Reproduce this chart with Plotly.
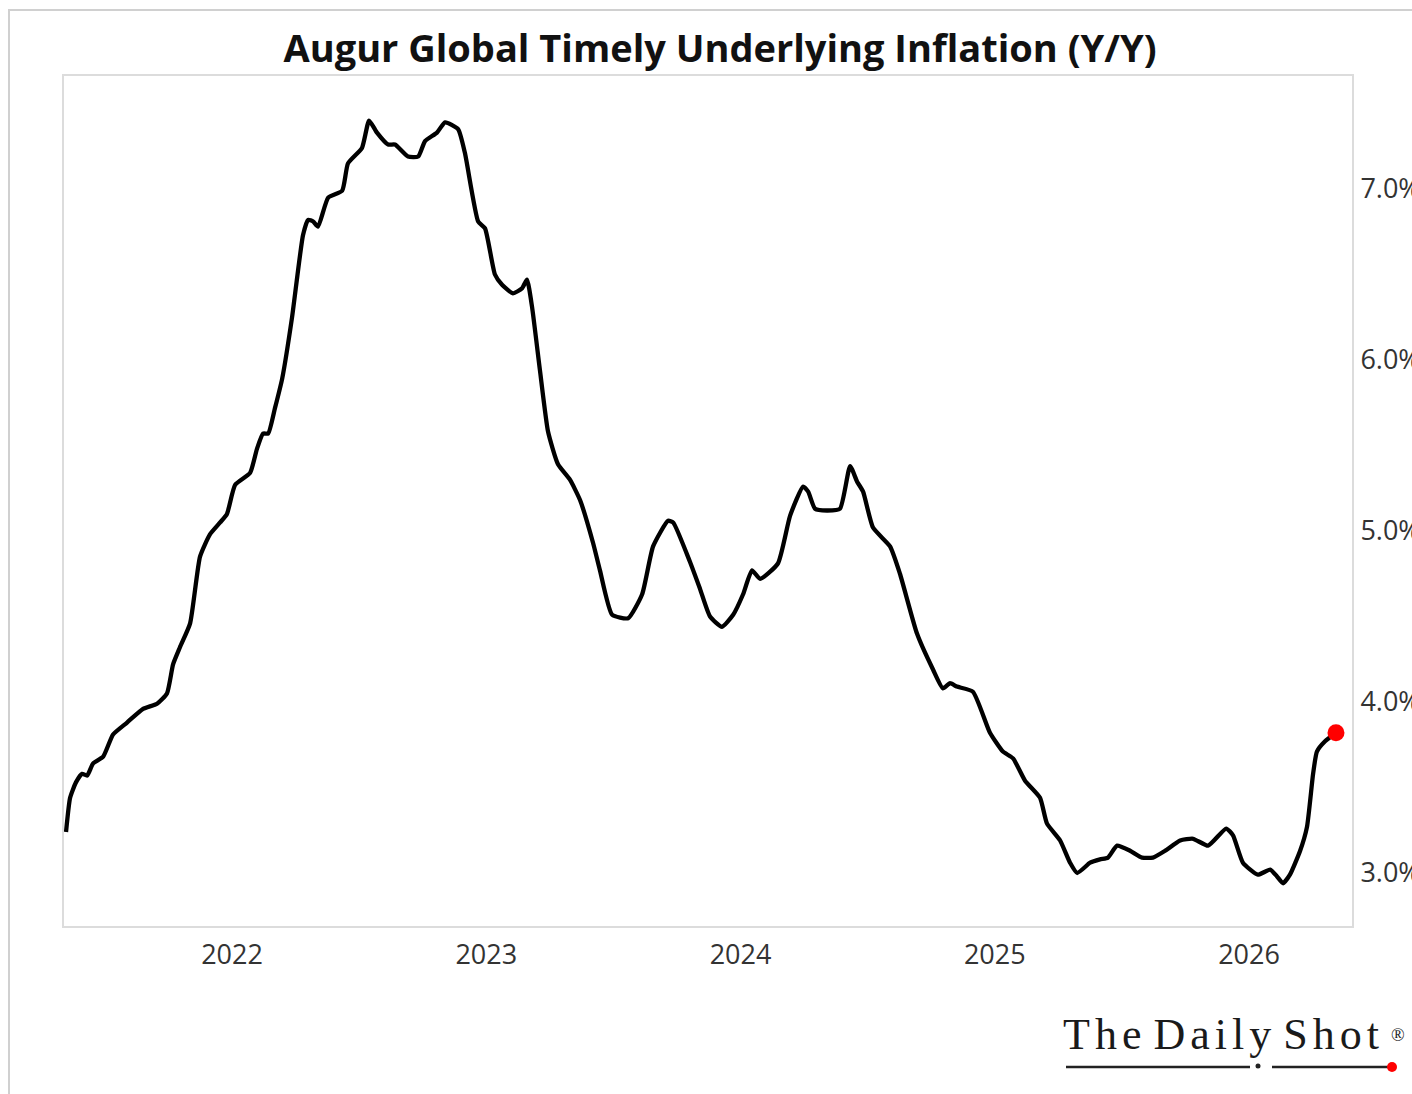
import plotly.graph_objects as go

# decimal-year positions
years = [
    2021.347, 2021.363, 2021.386, 2021.410, 2021.430, 2021.453, 2021.493, 2021.532,
    2021.587, 2021.650, 2021.705, 2021.744, 2021.768, 2021.795, 2021.835, 2021.874,
    2021.913, 2021.953, 2021.980, 2022.012, 2022.071, 2022.098, 2022.122, 2022.142,
    2022.169, 2022.197, 2022.236, 2022.279, 2022.299, 2022.319, 2022.338, 2022.378,
    2022.433, 2022.456, 2022.511, 2022.539, 2022.570, 2022.614, 2022.641, 2022.692,
    2022.732, 2022.759, 2022.806, 2022.838, 2022.889, 2022.916, 2022.968, 2022.995,
    2023.034, 2023.062, 2023.105, 2023.141, 2023.160, 2023.180, 2023.211, 2023.243,
    2023.282, 2023.329, 2023.369, 2023.420, 2023.447, 2023.495, 2023.558, 2023.613,
    2023.656, 2023.715, 2023.735, 2023.801, 2023.841, 2023.880, 2023.927, 2023.971,
    2024.010, 2024.045, 2024.077, 2024.147, 2024.195, 2024.246, 2024.266, 2024.293,
    2024.340, 2024.391, 2024.431, 2024.458, 2024.482, 2024.521, 2024.588, 2024.627,
    2024.694, 2024.757, 2024.796, 2024.824, 2024.851, 2024.914, 2024.981, 2025.032,
    2025.072, 2025.119, 2025.178, 2025.205, 2025.257, 2025.296, 2025.324, 2025.375,
    2025.414, 2025.445, 2025.481, 2025.532, 2025.579, 2025.622, 2025.670, 2025.729,
    2025.780, 2025.839, 2025.910, 2025.937, 2025.976, 2026.035, 2026.083, 2026.110,
    2026.134, 2026.161, 2026.201, 2026.228, 2026.252, 2026.267, 2026.299, 2026.342,
]

inflation = [
    3.24, 3.44, 3.53, 3.58, 3.57, 3.64, 3.68, 3.81,
    3.88, 3.96, 3.99, 4.05, 4.22, 4.32, 4.46, 4.85,
    4.98, 5.05, 5.10, 5.27, 5.34, 5.48, 5.57, 5.57,
    5.72, 5.89, 6.25, 6.73, 6.82, 6.81, 6.78, 6.95,
    6.99, 7.15, 7.24, 7.40, 7.33, 7.26, 7.26, 7.19,
    7.19, 7.28, 7.33, 7.39, 7.35, 7.21, 6.81, 6.77,
    6.50, 6.44, 6.39, 6.42, 6.47, 6.31, 5.94, 5.58,
    5.39, 5.30, 5.18, 4.93, 4.77, 4.51, 4.49, 4.63,
    4.91, 5.06, 5.05, 4.82, 4.66, 4.50, 4.44, 4.51,
    4.63, 4.77, 4.72, 4.81, 5.09, 5.26, 5.23, 5.13,
    5.12, 5.13, 5.38, 5.29, 5.23, 5.02, 4.91, 4.75,
    4.40, 4.19, 4.08, 4.11, 4.09, 4.06, 3.82, 3.71,
    3.67, 3.54, 3.44, 3.29, 3.19, 3.06, 3.00, 3.06,
    3.08, 3.09, 3.16, 3.13, 3.09, 3.09, 3.13, 3.19,
    3.20, 3.16, 3.26, 3.22, 3.06, 2.99, 3.02, 2.98,
    2.94, 2.99, 3.13, 3.27, 3.58, 3.71, 3.77, 3.82,
]

x_ticks = [2022, 2023, 2024, 2025, 2026]
y_ticks = [3.0, 4.0, 5.0, 6.0, 7.0]
y_tick_labels = ["3.0%", "4.0%", "5.0%", "6.0%", "7.0%"]

TITLE = "Augur Global Timely Underlying Inflation (Y/Y)"
LOGO = "The Daily Shot"

W, H = 1412, 1094
L, T, R, B = 64, 76, 1412 - 1352, 1094 - 926
PW, PH = W - L - R, H - T - B


def px(xs):
    return (xs - L) / PW


def py(ys):
    return (H - B - ys) / PH


fig = go.Figure()
fig.add_trace(go.Scatter(
    x=years, y=inflation, mode="lines",
    line=dict(color="black", width=4.3, shape="spline", smoothing=0.5),
    hoverinfo="skip", showlegend=False,
))
fig.add_trace(go.Scatter(
    x=[years[-1]], y=[inflation[-1]], mode="markers",
    marker=dict(color="#ff0000", size=17),
    hoverinfo="skip", showlegend=False,
))

tick_font = dict(family="Open Sans", size=27, color="#333333")

fig.update_layout(
    width=W, height=H,
    margin=dict(l=L, r=R, t=T, b=B, autoexpand=False),
    paper_bgcolor="white", plot_bgcolor="white",
    title=dict(
        text=TITLE, x=720 / W, xanchor="center", xref="container",
        y=1 - 48.5 / H, yanchor="middle",
        font=dict(family="Open Sans", size=38, color="#111111", weight="bold"),
    ),
    xaxis=dict(
        range=[2021.339, 2026.405], tickvals=x_ticks,
        ticktext=[str(v) for v in x_ticks], automargin=False,
        showgrid=False, zeroline=False, ticks="",
        showline=True, mirror=True, linecolor="#dcdcdc", linewidth=2,
        tickfont=tick_font, ticklabelstandoff=4,
    ),
    yaxis=dict(
        range=[2.690, 7.661], side="right", tickvals=y_ticks,
        ticktext=y_tick_labels, ticklabeloverflow="allow", automargin=False,
        showgrid=False, zeroline=False, ticks="",
        showline=True, mirror=True, linecolor="#dcdcdc", linewidth=2,
        tickfont=tick_font, ticklabelstandoff=1,
    ),
    shapes=[
        # outer frame
        dict(type="rect", xref="paper", yref="paper",
             x0=px(9), x1=px(1440), y0=py(1120), y1=py(10),
             line=dict(color="#d0d0d0", width=2), layer="below"),
        # logo underline
        dict(type="line", xref="paper", yref="paper",
             x0=px(1066), x1=px(1250), y0=py(1067), y1=py(1067),
             line=dict(color="#222222", width=2.5)),
        dict(type="line", xref="paper", yref="paper",
             x0=px(1272), x1=px(1390), y0=py(1067), y1=py(1067),
             line=dict(color="#222222", width=2.5)),
        dict(type="circle", xref="paper", yref="paper",
             xsizemode="pixel", ysizemode="pixel",
             xanchor=px(1258), yanchor=py(1066),
             x0=-2.5, x1=2.5, y0=-2.5, y1=2.5,
             fillcolor="#222222", line=dict(width=0)),
        dict(type="circle", xref="paper", yref="paper",
             xsizemode="pixel", ysizemode="pixel",
             xanchor=px(1392), yanchor=py(1067),
             x0=-5, x1=5, y0=-5, y1=5,
             fillcolor="#ff0000", line=dict(width=0)),
    ],
    annotations=[
        dict(text='<span style="letter-spacing:5px;word-spacing:-9px">' + LOGO + '</span>',
             xref="paper", yref="paper",
             x=px(1061), y=py(1034), xanchor="left", yanchor="middle",
             showarrow=False,
             font=dict(family="Liberation Serif", size=44, color="#1a1a1a")),
        dict(text="®", xref="paper", yref="paper",
             x=px(1398), y=py(1035), xanchor="center", yanchor="middle",
             showarrow=False,
             font=dict(family="Liberation Serif", size=18, color="#1a1a1a")),
    ],
)

fig.write_html(
    "out.html",
    config={"displayModeBar": False},
    post_script="document.body.style.margin='0';document.body.style.overflow='hidden';",
)
